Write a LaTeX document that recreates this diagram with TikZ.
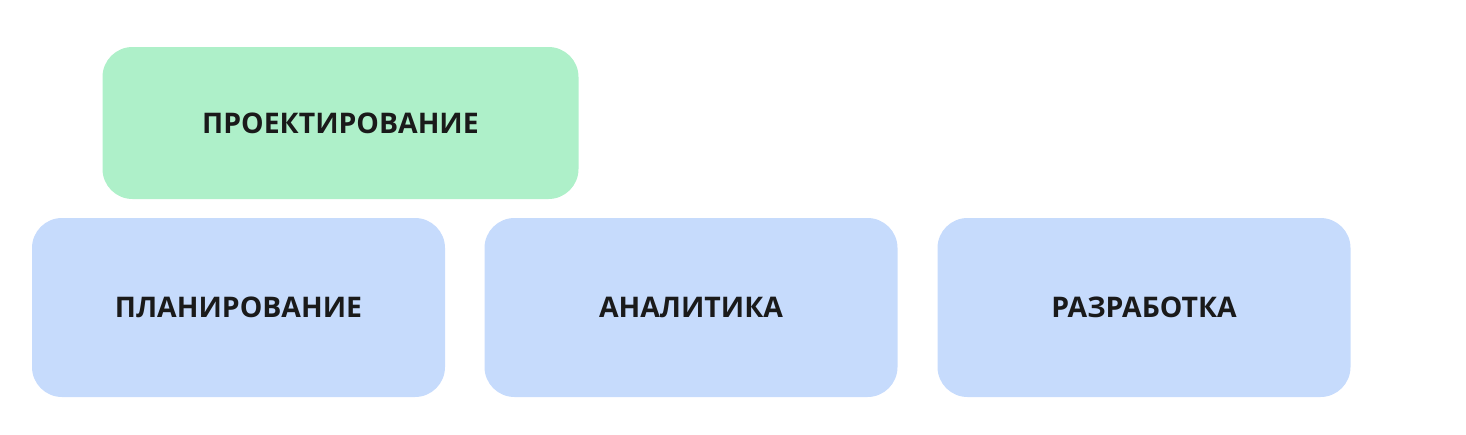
\documentclass[tikz,border=0pt]{standalone}
\usepackage{fontspec}
\setmainfont{Open Sans}
\definecolor{stagegreen}{RGB}{174,240,201}
\definecolor{stageblue}{RGB}{198,219,252}
\definecolor{stagetext}{RGB}{26,26,26}
\tikzset{every picture/.style={line width=0.75pt}}
\tikzset{
	stagebox/.style={rounded corners=15pt, draw=none, text=stagetext, font=\fontsize{14.2}{17}\selectfont\bfseries, inner sep=0pt},
	topbox/.style={stagebox, fill=stagegreen, minimum width=238pt, minimum height=76pt},
	lowbox/.style={stagebox, fill=stageblue, minimum width=206.5pt, minimum height=89.5pt}
}

\begin{document}
\begin{tikzpicture}[x=0.5pt,y=0.5pt,yscale=-1,xscale=1]
	%set diagram frame: 1466 x 434
	\useasboundingbox (0,0) rectangle (1466,434);

	%Shape: Rounded Rect [id:proekt]
	\node [topbox] (proekt) at (340.5,123) {ПРОЕКТИРОВАНИЕ};
	%Shape: Rounded Rect [id:plan]
	\node [lowbox] (plan) at (238.5,307.5) {ПЛАНИРОВАНИЕ};
	%Shape: Rounded Rect [id:analit]
	\node [lowbox] (analit) at (691,307.5) {АНАЛИТИКА};
	%Shape: Rounded Rect [id:razrab]
	\node [lowbox] (razrab) at (1144,307.5) {РАЗРАБОТКА};

\end{tikzpicture}
\end{document}
